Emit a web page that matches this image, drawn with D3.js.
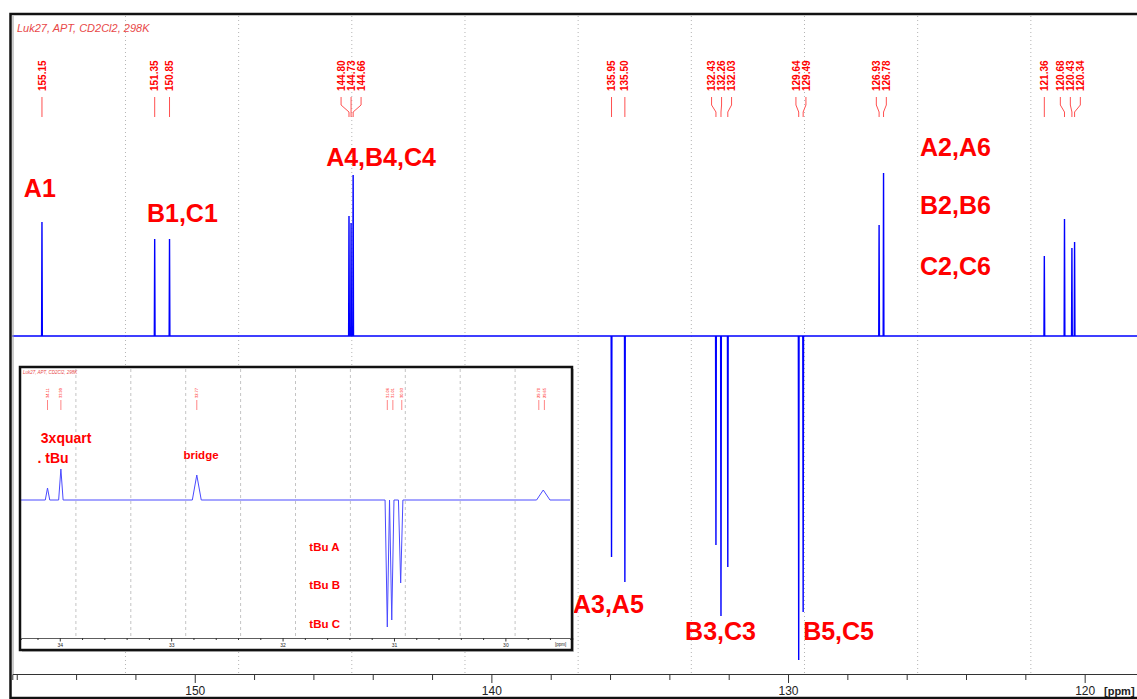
<!DOCTYPE html>
<html>
<head>
<meta charset="utf-8">
<script src="https://cdn.jsdelivr.net/npm/d3@7.9.0/dist/d3.min.js"></script>
<style>
  html, body { margin: 0; padding: 0; background: #fff; }
  svg { display: block; font-family: "Liberation Sans", Arial, sans-serif; }
</style>
</head>
<body>
<svg id="spectrum" width="1137" height="699"></svg>
<script>
//main spectrum: picked peaks (ppm) and their heights (a.u., negative = CH/CH3 in APT)
const peakPpm = [155.15, 151.35, 150.85, 144.80, 144.73, 144.66, 135.95, 135.50,
    132.43, 132.26, 132.03, 129.64, 129.49, 126.93, 126.78, 121.36, 120.68, 120.43, 120.34];
const peakHeight = [114, 97, 97, 120, 113, 161, -221, -246,
    -209, -280, -231, -324, -276, 111, 163, 80, 117, 88, 94];

//carbon assignments, placed at (ppm, level)
const assignText = ['A1', 'B1,C1', 'A4,B4,C4', 'A2,A6', 'B2,B6', 'C2,C6', 'A3,A5', 'B3,C3', 'B5,C5'];
const assignPpm = [155.76, 151.61, 145.57, 125.55, 125.55, 125.55, 137.25, 133.47, 129.49];
const assignLevel = [139, 114, 170, 180, 122, 61, -277, -304, -304];

//inset: aliphatic region
const insetPpm = [34.11, 33.99, 32.77, 31.06, 31.02, 30.94, 29.66];
const insetHeight = [12, 31, 25, -127, -120, -83, 10];
const insetWidth = [0.02, 0.02, 0.04, 0.02, 0.02, 0.02, 0.06];
const insetLabels = ['34.11', '33.99', '32.77', '31.06', '31.01', '30.93', '29.70', '29.65'];
const insetText = ['3xquart', '. tBu', 'bridge', 'tBu A', 'tBu B', 'tBu C'];
const insetTextPpm = [34.17, 34.20, 32.89, 31.76, 31.76, 31.76];
const insetTextLevel = [57, 37, 41, -51, -89, -128];

//axis ticks
const mainTicks = d3.range(156, 117, -2);
const insetTicks = d3.range(171, 146, -1).map(v => v / 5);

const svg = d3.select('#spectrum');
const red = '#ff0000';
const blue = '#0000ff';

//scales
const x = d3.scaleLinear().domain([156.15, 118.0]).range([12.3, 1144]);
const y = d3.scaleLinear().domain([-330, 330]).range([666, 6]);
const axisY = 674;

//dotted grid (10 equal divisions of the frame)
const [d0, d1] = x.domain();
svg.append('g')
    .selectAll('line')
    .data(d3.range(1, 10).map(i => d0 + i * (d1 - d0) / 10))
    .join('line')
    .attr('x1', d => x(d)).attr('x2', d => x(d))
    .attr('y1', 16).attr('y2', axisY)
    .attr('stroke', '#b4b4b4')
    .attr('stroke-dasharray', '1,3');

//spectrum line: baseline with each peak as a narrow spike
function spectrumPoints(ppm, height, width, domain) {
    const pts = [[domain[0], 0]];
    ppm.map((p, i) => ({ p, h: height[i], w: width[i] }))
        .sort((a, b) => b.p - a.p)
        .forEach(d => {
            pts.push([d.p + d.w, 0], [d.p, d.h], [d.p - d.w, 0]);
        });
    pts.push([domain[1], 0]);
    return pts;
}

const mainLine = d3.line().x(d => x(d[0])).y(d => y(d[1]));
svg.append('path')
    .attr('d', mainLine(spectrumPoints(peakPpm, peakHeight, peakPpm.map(() => 0.012), x.domain())))
    .attr('fill', 'none')
    .attr('stroke', blue)
    .attr('stroke-width', 1.4);

//spread overlapping peak labels, centred on each cluster
function spreadLabels(xs, gap) {
    let groups = xs.map(v => ({ items: [v], center: v }));
    let merged = true;
    while (merged) {
        merged = false;
        for (let i = 0; i < groups.length - 1; i++) {
            const a = groups[i], b = groups[i + 1];
            const aEnd = a.center + (a.items.length - 1) * gap / 2;
            const bStart = b.center - (b.items.length - 1) * gap / 2;
            if (bStart - aEnd < gap) {
                const items = a.items.concat(b.items);
                groups.splice(i, 2, { items, center: d3.mean(items) });
                merged = true;
                break;
            }
        }
    }
    return groups.flatMap(g => g.items.map((_, k) => g.center + (k - (g.items.length - 1) / 2) * gap));
}

function drawPeakLabels(g, xs, labels, gap, top, rows, fontSize, weight) {
    const lx = spreadLabels(xs, gap);
    const [t0, t1, t2, t3] = rows;
    g.selectAll('path.lead')
        .data(xs)
        .join('path')
        .attr('class', 'lead')
        .attr('d', (px, i) => `M${lx[i]},${t0}V${t1}L${px},${t2}V${t3}`)
        .attr('fill', 'none')
        .attr('stroke', '#ff5050')
        .attr('stroke-width', 1);
    g.selectAll('text.plabel')
        .data(labels)
        .join('text')
        .attr('class', 'plabel')
        .attr('transform', (d, i) => `translate(${lx[i]},${top}) rotate(-90)`)
        .attr('dy', '0.36em')
        .attr('fill', red)
        .attr('font-size', fontSize)
        .attr('font-weight', weight)
        .text(d => d);
}

const mainLabels = svg.append('g');
drawPeakLabels(mainLabels, peakPpm.map(p => x(p)), peakPpm.map(p => p.toFixed(2)),
    10, 91, [97, 105, 112, 117], 10, 'bold');

//title
svg.append('text')
    .attr('x', 17).attr('y', 32)
    .attr('fill', '#e84848')
    .attr('font-size', 11)
    .attr('font-style', 'italic')
    .text('Luk27, APT, CD2Cl2, 298K');

//assignments
svg.append('g')
    .selectAll('text')
    .data(assignText)
    .join('text')
    .attr('x', (d, i) => x(assignPpm[i]))
    .attr('y', (d, i) => y(assignLevel[i]))
    .attr('fill', red)
    .attr('font-size', 25)
    .attr('font-weight', 'bold')
    .text(d => d);

//x axis
const xAxis = d3.axisBottom(x)
    .tickValues(mainTicks)
    .tickSizeOuter(0)
    .tickSize(6)
    .tickFormat(d => d % 10 === 0 ? d : '');
const axisG = svg.append('g')
    .attr('transform', `translate(0,${axisY})`)
    .call(xAxis);
axisG.select('.domain').attr('stroke', '#333');
axisG.selectAll('.tick line')
    .attr('stroke', '#333')
    .attr('y2', d => d % 10 === 0 ? 9 : 6);
axisG.selectAll('.tick text')
    .attr('y', 12)
    .attr('fill', '#222')
    .attr('font-size', 12)
    .attr('font-family', '"Liberation Sans", Arial, sans-serif');
svg.append('text')
    .attr('x', 1104).attr('y', 695)
    .attr('font-size', 11)
    .attr('font-weight', 'bold')
    .attr('fill', '#222')
    .text('[ppm]');

//frame
svg.append('line')
    .attr('x1', 13).attr('x2', 13)
    .attr('y1', 16).attr('y2', axisY)
    .attr('stroke', '#999');
svg.append('rect')
    .attr('x', 10.5).attr('y', 14)
    .attr('width', 1140).attr('height', 684)
    .attr('fill', 'none')
    .attr('stroke', '#111')
    .attr('stroke-width', 2.5);

//---- inset ----
const inset = svg.append('g');
const ix = d3.scaleLinear().domain([34.348, 29.42]).range([21, 570]);
const iy = d3.scaleLinear().domain([-150, 150]).range([650, 350]);
const iAxisY = 638;

inset.append('rect')
    .attr('x', 22).attr('y', 369)
    .attr('width', 552).attr('height', 283)
    .attr('fill', '#c8c8c8');
inset.append('rect')
    .attr('x', 20).attr('y', 367)
    .attr('width', 552).attr('height', 283)
    .attr('fill', '#fff');

const [e0, e1] = ix.domain();
inset.append('g')
    .selectAll('line')
    .data(d3.range(1, 10).map(i => e0 + i * (e1 - e0) / 10))
    .join('line')
    .attr('x1', d => ix(d)).attr('x2', d => ix(d))
    .attr('y1', 369).attr('y2', iAxisY)
    .attr('stroke', '#c4c4c4')
    .attr('stroke-dasharray', '3,3');

const insetLine = d3.line().x(d => ix(d[0])).y(d => iy(d[1]));
inset.append('path')
    .attr('d', insetLine(spectrumPoints(insetPpm, insetHeight, insetWidth, ix.domain())))
    .attr('fill', 'none')
    .attr('stroke', '#4a4aff')
    .attr('stroke-width', 1);

//inset peak labels
const insetLabelX = [34.11, 33.99, 32.77, 31.06, 31.01, 30.93, 29.70, 29.65].map(p => ix(p));
const insetLabelG = inset.append('g');
drawPeakLabels(insetLabelG, insetLabelX, insetLabels, 5, 398, [400, 403, 407, 410], 4, 'normal');
insetLabelG.selectAll('path').attr('stroke-width', 0.7);

inset.append('text')
    .attr('x', 23).attr('y', 374)
    .attr('fill', '#e84848')
    .attr('font-size', 4.5)
    .attr('font-style', 'italic')
    .text('Luk27, APT, CD2Cl2, 298K');

//first two notes are set larger than the rest
inset.append('g')
    .selectAll('text')
    .data(insetText)
    .join('text')
    .attr('x', (d, i) => ix(insetTextPpm[i]))
    .attr('y', (d, i) => iy(insetTextLevel[i]))
    .attr('fill', red)
    .attr('font-size', (d, i) => i < 2 ? 14 : 11.5)
    .attr('font-weight', 'bold')
    .text(d => d);

const iAxis = d3.axisBottom(ix)
    .tickValues(insetTicks)
    .tickSizeOuter(0)
    .tickSize(2)
    .tickFormat(d => Number.isInteger(d) ? d : '');
const iAxisG = inset.append('g')
    .attr('transform', `translate(0,${iAxisY})`)
    .call(iAxis);
iAxisG.select('.domain').attr('stroke', '#333').attr('stroke-width', 0.8);
iAxisG.selectAll('.tick line')
    .attr('stroke', '#333')
    .attr('y2', d => Number.isInteger(d) ? 3.5 : 2);
iAxisG.selectAll('.tick text')
    .attr('y', 5)
    .attr('fill', '#222')
    .attr('font-size', 5)
    .attr('font-family', '"Liberation Sans", Arial, sans-serif');
inset.append('text')
    .attr('x', 555).attr('y', 646)
    .attr('font-size', 4.5)
    .attr('fill', '#222')
    .text('[ppm]');

inset.append('rect')
    .attr('x', 20).attr('y', 367)
    .attr('width', 552).attr('height', 283)
    .attr('fill', 'none')
    .attr('stroke', '#111')
    .attr('stroke-width', 2.5);
</script>
</body>
</html>
